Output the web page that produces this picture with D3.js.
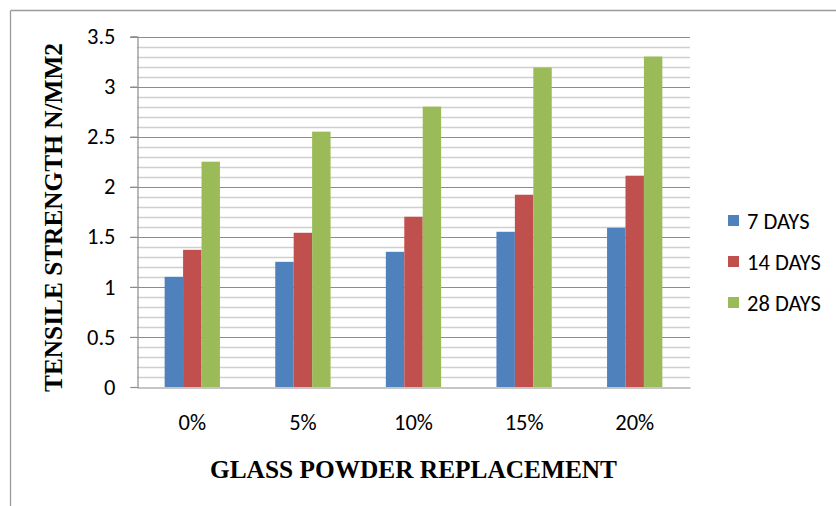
<!DOCTYPE html>
<html>
<head>
<meta charset="utf-8">
<script src="https://cdn.jsdelivr.net/npm/d3@7/dist/d3.min.js"></script>
<style>
  html, body { margin: 0; padding: 0; background: #fff; }
  svg { display: block; }
</style>
</head>
<body>
<svg id="chart" width="836" height="506"></svg>
<script>
const categories = ["0%", "5%", "10%", "15%", "20%"];
const seriesNames = ["7 DAYS", "14 DAYS", "28 DAYS"];
const days7  = [1.10, 1.25, 1.35, 1.55, 1.59];
const days14 = [1.37, 1.54, 1.70, 1.92, 2.11];
const days28 = [2.25, 2.55, 2.80, 3.19, 3.30];
const yTicks = [0, 0.5, 1, 1.5, 2, 2.5, 3, 3.5];
const colors = ["#4F81BD", "#C0504D", "#9BBB59"];
const yTitle = "TENSILE STRENGTH N/MM2";
const xTitle = "GLASS POWDER REPLACEMENT";

const series = [days7, days14, days28];
const svg = d3.select("#chart");
const pLeft = 137, pRight = 690, pTop = 36.5, pBottom = 387;
const labelFont = "Carlito, Lato, sans-serif";

// outer border (top and left)
svg.append("line").attr("x1", 10.5).attr("x2", 836).attr("y1", 10.5).attr("y2", 10.5)
  .attr("stroke", "#9a9a9a").attr("stroke-width", 1.3);
svg.append("line").attr("x1", 10.5).attr("x2", 10.5).attr("y1", 10.5).attr("y2", 506)
  .attr("stroke", "#9a9a9a").attr("stroke-width", 1.3);

const y = d3.scaleLinear().domain([0, 3.5]).range([pBottom, pTop]);
const x = d3.scaleBand().domain(categories).range([pLeft, pRight]).paddingInner(0).paddingOuter(0);
const groupW = x.bandwidth() * 0.5;
const xs = d3.scaleBand().domain(d3.range(series.length)).range([0, groupW]);

// minor gridlines every 0.1
const minor = d3.range(1, 35).filter(i => i % 5 !== 0).map(i => i / 10);
svg.append("g").selectAll("line").data(minor).join("line")
  .attr("x1", pLeft).attr("x2", pRight)
  .attr("y1", d => Math.round(y(d)) + 0.5).attr("y2", d => Math.round(y(d)) + 0.5)
  .attr("stroke", "#cfcfcf").attr("stroke-width", 1.6);

// major gridlines
svg.append("g").selectAll("line").data(yTicks.filter(d => d > 0)).join("line")
  .attr("x1", pLeft - 7).attr("x2", pRight)
  .attr("y1", d => Math.round(y(d)) + 0.5).attr("y2", d => Math.round(y(d)) + 0.5)
  .attr("stroke", "#8c8c8c").attr("stroke-width", 1.2);

// y axis
const yAxis = d3.axisLeft(y).tickValues(yTicks).tickSize(7).tickPadding(15)
  .tickFormat(d => String(d));
const gy = svg.append("g").attr("transform", `translate(${pLeft + 0.5},0)`).call(yAxis);
gy.select(".domain").attr("stroke", "#8c8c8c").attr("stroke-width", 1.2);
gy.selectAll(".tick line").attr("stroke", "#8c8c8c").attr("stroke-width", 1.2);
gy.selectAll(".tick text").attr("font-family", labelFont).attr("font-size", 22.5)
  .attr("fill", "#000");

// bars
series.forEach((vals, si) => {
  svg.append("g").selectAll("rect").data(vals).join("rect")
    .attr("x", (d, i) => x(categories[i]) + x.bandwidth() * 0.25 + xs(si))
    .attr("width", xs.bandwidth())
    .attr("y", d => y(d))
    .attr("height", d => pBottom - y(d))
    .attr("fill", colors[si]);
});

// x axis baseline
const xAxis = d3.axisBottom(x).tickSize(0).tickPadding(27);
const gx = svg.append("g").attr("transform", `translate(0,${pBottom + 0.5})`).call(xAxis);
gx.select(".domain").attr("stroke", "#8c8c8c").attr("stroke-width", 1.2);
gx.selectAll(".tick text").attr("font-family", labelFont).attr("font-size", 22.5)
  .attr("fill", "#000");

// axis titles
svg.append("text").attr("x", (pLeft + pRight) / 2).attr("y", 478)
  .attr("text-anchor", "middle")
  .attr("font-family", "'Liberation Serif', 'Times New Roman', serif")
  .attr("font-weight", "bold").attr("font-size", 26)
  .attr("textLength", 407).attr("lengthAdjust", "spacingAndGlyphs")
  .text(xTitle);

svg.append("text")
  .attr("transform", "translate(62,217.5) rotate(-90)")
  .attr("text-anchor", "middle")
  .attr("font-family", "'Liberation Serif', 'Times New Roman', serif")
  .attr("font-weight", "bold").attr("font-size", 26)
  .attr("textLength", 349).attr("lengthAdjust", "spacingAndGlyphs")
  .text(yTitle);

// legend
const legY = [221, 262, 303];
const leg = svg.append("g").selectAll("g").data(seriesNames).join("g")
  .attr("transform", (d, i) => `translate(728,${legY[i]})`);
leg.append("rect").attr("x", 0).attr("y", -6).attr("width", 11).attr("height", 11)
  .attr("fill", (d, i) => colors[i]);
leg.append("text").attr("x", 19).attr("y", 0).attr("dy", "0.35em")
  .attr("font-family", labelFont).attr("font-size", 22.5)
  .attr("fill", "#000").text(d => d);
</script>
</body>
</html>
